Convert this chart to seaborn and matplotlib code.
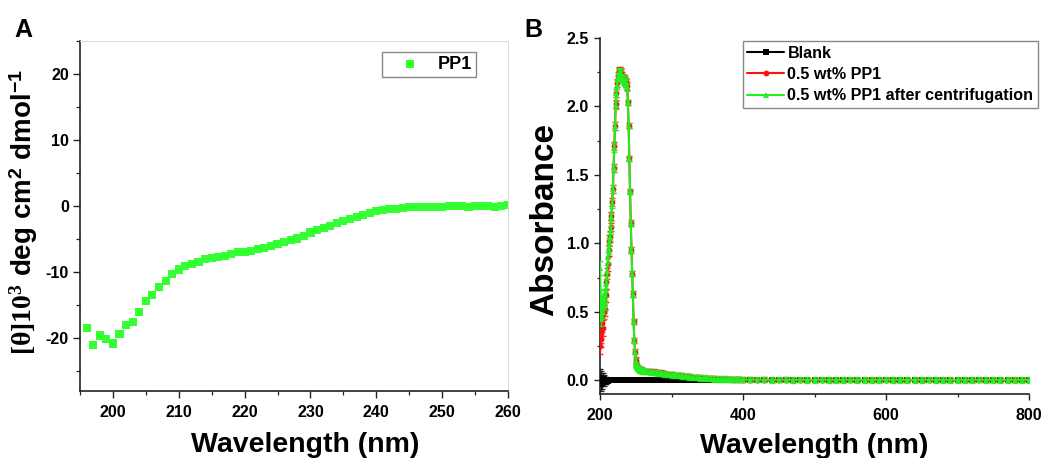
import matplotlib
matplotlib.use("Agg")
import matplotlib.pyplot as plt
import seaborn as sns
import pandas as pd
from matplotlib.ticker import MultipleLocator

# ---------------- data ----------------
cd_wavelength = list(range(196, 261))
cd_theta = [-18.5, -21.0, -19.6, -20.1, -20.8, -19.4, -18.0, -17.6, -16.0, -14.4,
            -13.4, -12.2, -11.3, -10.3, -9.6, -9.1, -8.8, -8.4, -8.0, -7.8,
            -7.7, -7.5, -7.3, -7.0, -6.9, -6.8, -6.5, -6.3, -6.1, -5.7,
            -5.4, -5.2, -4.9, -4.5, -4.0, -3.6, -3.3, -3.0, -2.6, -2.2,
            -1.9, -1.6, -1.3, -1.0, -0.8, -0.6, -0.5, -0.4, -0.3, -0.2,
            -0.1, -0.1, -0.2, -0.2, -0.1, 0.0, 0.0, 0.0, -0.1, 0.0,
            0.0, 0.0, -0.1, 0.0, 0.1]

uv_wavelength = list(range(200, 261)) + list(range(265, 401, 5)) + list(range(410, 801, 10))

uv_blank = [0.020, -0.030, 0.015, -0.020, 0.010, -0.015, 0.010, -0.010, 0.005, -0.005,
            0.004, -0.003, 0.002, 0.000, 0.001, 0.000,
            0.000, 0.001, 0.000, 0.000, 0.001, 0.000, 0.000, 0.001, 0.000, 0.000,
            0.001, 0.000, 0.000, 0.001, 0.000, 0.000, 0.001, 0.000, 0.000, 0.001,
            0.000, 0.000, 0.001, 0.000, 0.000, 0.001, 0.000, 0.000, 0.001, 0.000,
            0.000, 0.001, 0.000, 0.000, 0.001, 0.000, 0.000, 0.001, 0.000, 0.000,
            0.001, 0.000, 0.000, 0.001, 0.000,
            0.000, 0.000, 0.001, 0.000, 0.000, 0.000, 0.001, 0.000, 0.000, 0.000,
            0.001, 0.000, 0.000, 0.000, 0.001, 0.000, 0.000, 0.000, 0.001, 0.000,
            0.000, 0.000, 0.001, 0.000, 0.000, 0.000, 0.001, 0.000,
            0.000, 0.000, 0.000, 0.001, 0.000, 0.000, 0.000, 0.000, 0.001, 0.000,
            0.000, 0.000, 0.000, 0.001, 0.000, 0.000, 0.000, 0.000, 0.001, 0.000,
            0.000, 0.000, 0.000, 0.001, 0.000, 0.000, 0.000, 0.000, 0.001, 0.000,
            0.000, 0.000, 0.000, 0.001, 0.000, 0.000, 0.000, 0.000, 0.001, 0.000]

uv_pp1 = [0.25, 0.35, 0.30, 0.42, 0.38, 0.50, 0.55, 0.52, 0.62, 0.72,
          0.78, 0.85, 0.95, 1.02, 1.05, 1.12,
          1.20, 1.30, 1.40, 1.55, 1.71, 1.86, 2.02, 2.10, 2.17, 2.22,
          2.25, 2.26, 2.26, 2.25, 2.24, 2.22, 2.21, 2.20, 2.20, 2.19,
          2.18, 2.17, 2.15, 2.03, 1.86, 1.62, 1.38, 1.15, 0.95, 0.78,
          0.63, 0.43, 0.29, 0.21, 0.15, 0.12, 0.10, 0.092, 0.087, 0.083,
          0.080, 0.078, 0.076, 0.074, 0.073,
          0.070, 0.067, 0.064, 0.060, 0.056, 0.052, 0.048, 0.044, 0.040, 0.037,
          0.034, 0.031, 0.028, 0.025, 0.022, 0.020, 0.018, 0.016, 0.014, 0.012,
          0.011, 0.010, 0.009, 0.008, 0.007, 0.006, 0.006, 0.005,
          0.005, 0.004, 0.005, 0.004, 0.004, 0.005, 0.004, 0.004, 0.003, 0.004,
          0.004, 0.003, 0.004, 0.004, 0.003, 0.004, 0.003, 0.004, 0.003, 0.003,
          0.004, 0.003, 0.003, 0.004, 0.003, 0.003, 0.003, 0.004, 0.003, 0.003,
          0.003, 0.004, 0.003, 0.003, 0.003, 0.003, 0.004, 0.003, 0.003, 0.003]

uv_pp1_centrifuged = [0.82, 0.60, 0.45, 0.55, 0.50, 0.58, 0.62, 0.55, 0.66, 0.70,
                      0.80, 0.90, 0.95, 1.00, 1.05, 1.10,
                      1.19, 1.29, 1.40, 1.55, 1.70, 1.86, 2.01, 2.10, 2.16, 2.21,
                      2.24, 2.25, 2.25, 2.24, 2.23, 2.21, 2.20, 2.19, 2.19, 2.18,
                      2.17, 2.16, 2.14, 2.03, 1.86, 1.62, 1.38, 1.15, 0.95, 0.78,
                      0.63, 0.43, 0.29, 0.21, 0.14, 0.11, 0.095, 0.087, 0.082, 0.078,
                      0.075, 0.073, 0.071, 0.069, 0.068,
                      0.065, 0.062, 0.058, 0.055, 0.051, 0.047, 0.044, 0.040, 0.037, 0.034,
                      0.031, 0.028, 0.025, 0.022, 0.020, 0.018, 0.016, 0.014, 0.012, 0.011,
                      0.010, 0.009, 0.008, 0.007, 0.006, 0.006, 0.005, 0.005,
                      0.004, 0.004, 0.004, 0.003, 0.004, 0.004, 0.003, 0.004, 0.003, 0.003,
                      0.004, 0.003, 0.003, 0.003, 0.004, 0.003, 0.003, 0.003, 0.003, 0.004,
                      0.003, 0.003, 0.003, 0.003, 0.003, 0.004, 0.003, 0.003, 0.003, 0.003,
                      0.003, 0.003, 0.004, 0.003, 0.003, 0.003, 0.003, 0.003, 0.003, 0.003]

# error bars (first 61 points: 200-260 nm, then a constant small tail error)
err_blank_peak = [0.06, 0.05, 0.05, 0.04, 0.04, 0.03, 0.03, 0.02, 0.02, 0.02,
                  0.015, 0.01, 0.01, 0.008, 0.006, 0.005] + [0.004] * 45
err_pp1_peak = [0.06, 0.08, 0.06, 0.07, 0.06, 0.05, 0.06, 0.05, 0.05, 0.05,
                0.04, 0.05, 0.04, 0.04, 0.04, 0.03] + [0.03] * 23 + [0.02] * 12 + [0.016] * 10
err_cent_peak = [0.05, 0.06, 0.05, 0.06, 0.05, 0.05, 0.05, 0.04, 0.05, 0.04,
                 0.04, 0.04, 0.03, 0.04, 0.03, 0.03] + [0.03] * 23 + [0.02] * 12 + [0.02] * 10
tail_err_blank = 0.003
tail_err_pp1 = 0.016
tail_err_cent = 0.02

n_tail = len(uv_wavelength) - 61
err_blank = err_blank_peak + [tail_err_blank] * n_tail
err_pp1 = err_pp1_peak + [tail_err_pp1] * n_tail
err_cent = err_cent_peak + [tail_err_cent] * n_tail

# ---------------- style ----------------
sns.set_style("ticks")
plt.rcParams["font.family"] = ["Liberation Sans", "DejaVu Sans"]
plt.rcParams["font.weight"] = "bold"
plt.rcParams["axes.labelweight"] = "bold"
plt.rcParams["axes.unicode_minus"] = False
for key in ["text.color", "axes.labelcolor", "xtick.color", "ytick.color"]:
    plt.rcParams[key] = "black"
plt.rcParams["mathtext.fontset"] = "custom"
plt.rcParams["mathtext.rm"] = "Liberation Serif"
plt.rcParams["mathtext.it"] = "Liberation Serif:italic"
plt.rcParams["mathtext.bf"] = "Liberation Sans:bold"

GREEN_A = "#33ff33"
GREEN_B = "#22ee22"
RED = "#ff1010"

fig = plt.figure(figsize=(10.56, 4.58), dpi=100)
axA = fig.add_axes([80 / 1056, 1 - 391 / 458, 428 / 1056, 350 / 458])
axB = fig.add_axes([600 / 1056, 1 - 394 / 458, 429 / 1056, 356 / 458])

# ---------------- panel A ----------------
dfA = pd.DataFrame({"Wavelength": cd_wavelength, "theta": cd_theta})
sns.scatterplot(data=dfA, x="Wavelength", y="theta", ax=axA, marker="s", s=34,
                color=GREEN_A, edgecolor="none", linewidth=0, label="PP1")
axA.set_xlim(195, 260)
axA.set_ylim(-28, 25)
axA.xaxis.set_major_locator(MultipleLocator(10))
axA.xaxis.set_minor_locator(MultipleLocator(5))
axA.yaxis.set_major_locator(MultipleLocator(10))
axA.yaxis.set_minor_locator(MultipleLocator(5))
for side in ["left", "bottom"]:
    axA.spines[side].set_linewidth(1.2)
    axA.spines[side].set_color("#222222")
for side in ["top", "right"]:
    axA.spines[side].set_linewidth(0.8)
    axA.spines[side].set_color("#dddddd")
axA.tick_params(which="major", length=5, width=1.0, labelsize=11.5, pad=3, color="#222222")
axA.tick_params(which="minor", length=3, width=0.9, color="#222222")
axA.tick_params(axis="x", which="major", pad=5)
for lab in axA.get_xticklabels() + axA.get_yticklabels():
    lab.set_fontweight("bold")
axA.set_xlabel("Wavelength (nm)", fontsize=20.5, fontweight="bold", va="top")
axA.xaxis.set_label_coords(0.526, -0.117)
axA.set_ylabel(r"$\mathrm{[\theta]10^{3}}$ deg cm$^{\mathbf{2}}$ dmol$^{\mathbf{-1}}$",
               fontsize=20, fontweight="bold")
axA.yaxis.set_label_coords(-0.093, 0.51)
legA = axA.legend(loc="upper right", bbox_to_anchor=(0.925, 0.969), borderaxespad=0,
                  fancybox=False, edgecolor="#888888", framealpha=1,
                  prop={"weight": "bold", "size": 13}, handlelength=2.6,
                  handletextpad=0.25, borderpad=0.22, markerscale=1.0)
legA.get_frame().set_linewidth(1.0)

# ---------------- panel B ----------------
series = [
    ("Blank", uv_blank, err_blank, "black", "s"),
    ("0.5 wt% PP1", uv_pp1, err_pp1, RED, "o"),
    ("0.5 wt% PP1 after centrifugation", uv_pp1_centrifuged, err_cent, GREEN_B, "^"),
]
for i, (name, vals, errs, col, mk) in enumerate(series):
    axB.errorbar(uv_wavelength, vals, yerr=errs, fmt="none", ecolor=col,
                 elinewidth=1.0, capsize=2.5, capthick=1.0, alpha=0.85, zorder=2 + 2 * i)
    dfB = pd.DataFrame({"Wavelength": uv_wavelength, "Abs": vals})
    sns.lineplot(data=dfB, x="Wavelength", y="Abs", ax=axB, color=col, marker=mk,
                 markersize=4.2, markeredgewidth=0, linewidth=1.5, sort=False,
                 estimator=None, label=name, zorder=3 + 2 * i)

axB.set_xlim(200, 800)
axB.set_ylim(-0.1, 2.5)
axB.xaxis.set_major_locator(MultipleLocator(200))
axB.xaxis.set_minor_locator(MultipleLocator(100))
axB.yaxis.set_major_locator(MultipleLocator(0.5))
axB.yaxis.set_minor_locator(MultipleLocator(0.25))
axB.yaxis.set_major_formatter(matplotlib.ticker.FormatStrFormatter("%.1f"))
sns.despine(ax=axB)
for side in ["left", "bottom"]:
    axB.spines[side].set_linewidth(1.2)
    axB.spines[side].set_color("#222222")
axB.tick_params(which="major", length=4, width=1.0, labelsize=11.5, pad=4, color="#222222")
axB.tick_params(which="minor", length=2.5, width=0.9, color="#222222")
axB.tick_params(axis="x", which="major", pad=6)
for lab in axB.get_xticklabels() + axB.get_yticklabels():
    lab.set_fontweight("bold")
axB.set_xlabel("Wavelength (nm)", fontsize=20.5, fontweight="bold", va="top")
axB.xaxis.set_label_coords(0.5, -0.11)
axB.set_ylabel("Absorbance", fontsize=24, fontweight="bold")
axB.yaxis.set_label_coords(-0.093, 0.49)
legB = axB.legend(loc="upper right", bbox_to_anchor=(1038 / 1056, 1 - 41 / 458),
                  bbox_transform=fig.transFigure, borderaxespad=0,
                  fancybox=False, edgecolor="#888888", framealpha=1,
                  prop={"weight": "bold", "size": 11.6}, handlelength=2.3,
                  handletextpad=0.2, borderpad=0.28, labelspacing=0.4)
legB.get_frame().set_linewidth(1.0)

# ---------------- panel letters ----------------
fig.text(14 / 1056, 1 - 37 / 458, "A", fontsize=18, fontweight="bold", va="baseline")
fig.text(524 / 1056, 1 - 37 / 458, "B", fontsize=18, fontweight="bold", va="baseline")

fig.savefig("out.png", dpi=100)
